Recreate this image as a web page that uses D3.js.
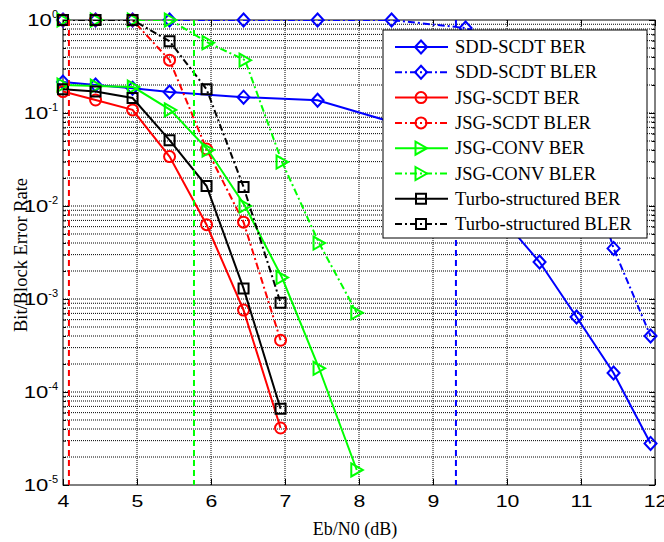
<!DOCTYPE html>
<html>
<head>
<meta charset="utf-8">
<script src="https://cdn.jsdelivr.net/npm/d3@7"></script>
<style>
  body { margin: 0; background: #fff; }
</style>
</head>
<body>
<div id="chart"></div>
<script>
// Eb/N0 positions (dB) for each group of curves
var ebnoJsg = [4, 4.44, 4.94, 5.44, 5.94, 6.44, 6.94];
var ebnoConv = [4, 4.45, 4.95, 5.45, 5.96, 6.46, 6.96, 7.46, 7.97];
var ebnoSdd = [4, 4.44, 4.94, 5.44, 6.44, 7.44, 8.44, 9.44, 10.44, 10.94, 11.44, 11.94];

// error rates
var sddBer = [0.215, 0.2, 0.185, 0.168, 0.148, 0.137, 0.08, 0.021, 0.0025, 0.00064, 0.00016, 0.000028];
var sddBler = [1, 1, 1, 1, 1, 1, 1, 0.82, 0.4, 0.07, 0.0035, 0.0004];
var jsgScdtBer = [0.17, 0.138, 0.108, 0.034, 0.0063, 0.00076, 0.000041];
var jsgScdtBler = [1, 1, 1, 0.37, 0.041, 0.0067, 0.00036];
var jsgConvBer = [0.2, 0.195, 0.19, 0.108, 0.04, 0.01, 0.0017, 0.00018, 0.0000145];
var jsgConvBler = [1, 1, 1, 1, 0.57, 0.37, 0.0297, 0.004, 0.00071];
var turboBer = [0.18, 0.17, 0.145, 0.051, 0.0164, 0.0013, 0.000066];
var turboBler = [1, 1, 1, 0.59, 0.18, 0.016, 0.00091];

// vertical limit lines (dB)
var limitX = [4.08, 5.77, 9.31];

var xTicks = [4, 5, 6, 7, 8, 9, 10, 11, 12];
var yDecades = [1e-5, 1e-4, 1e-3, 1e-2, 1e-1, 1];

var W = 664, H = 542;
var L = 63, R = 655, T = 20, B = 485;
var SX = 1.25; // tick digits are stretched sideways in the original

var svg = d3.select("#chart").append("svg")
    .attr("width", W)
    .attr("height", H)
    .style("font-family", "'Liberation Sans', Arial, sans-serif");

var x = d3.scaleLinear().domain([4, 12]).range([L, R]);
var y = d3.scaleLog().domain([1e-5, 1]).range([B, T]);

// grid
var grid = svg.append("g").attr("stroke", "#000").attr("stroke-width", 1)
    .attr("stroke-dasharray", "1,1").attr("fill", "none");
grid.selectAll("line.gx").data(xTicks.slice(1, -1)).enter().append("line")
    .attr("x1", function (d) { return x(d); }).attr("x2", function (d) { return x(d); })
    .attr("y1", T).attr("y2", B);
grid.selectAll("line.gy").data(y.ticks().filter(function (d) { return d > 1e-5 && d < 1; }))
    .enter().append("line")
    .attr("x1", L).attr("x2", R)
    .attr("y1", function (d) { return y(d); }).attr("y2", function (d) { return y(d); });

// axes (ticks inward on all sides)
var minorY = y.ticks();
svg.append("g").attr("transform", "translate(0," + B + ")")
    .call(d3.axisBottom(x).tickValues(xTicks).tickSize(-6).tickSizeOuter(0).tickPadding(10))
    .call(function (g) {
        g.select(".domain").remove();
        g.selectAll("text").attr("font-size", 17).attr("fill", "#000")
            .attr("transform", "scale(" + SX + ",1)")
            .attr("font-family", "'Liberation Sans', Arial, sans-serif");
    });
svg.append("g").attr("transform", "translate(0," + T + ")")
    .call(d3.axisTop(x).tickValues(xTicks).tickSize(-6).tickSizeOuter(0).tickFormat(""))
    .call(function (g) { g.select(".domain").remove(); });
svg.append("g").attr("transform", "translate(" + L + ",0)")
    .call(d3.axisLeft(y).tickValues(minorY).tickSize(-3).tickFormat(""))
    .call(function (g) { g.select(".domain").remove(); });
svg.append("g").attr("transform", "translate(" + R + ",0)")
    .call(d3.axisRight(y).tickValues(minorY).tickSize(-3).tickFormat(""))
    .call(function (g) { g.select(".domain").remove(); });
svg.append("g").attr("transform", "translate(" + L + ",0)")
    .call(d3.axisLeft(y).tickValues(yDecades).tickSize(-6).tickFormat(""))
    .call(function (g) {
        g.select(".domain").remove();
        g.selectAll(".tick").each(function (d) {
            var tick = d3.select(this);
            var ex = tick.append("text")
                .attr("x", -5).attr("y", -3)
                .attr("text-anchor", "end").attr("fill", "#000")
                .attr("font-size", 11)
                .text(Math.round(Math.log10(d)));
            var w = ex.node().getComputedTextLength();
            tick.append("text")
                .attr("x", (-5 - w) / 1.3).attr("dy", "0.35em")
                .attr("transform", "scale(1.3,1)")
                .attr("text-anchor", "end").attr("fill", "#000")
                .attr("font-size", 17)
                .text("10");
        });
    });
svg.append("g").attr("transform", "translate(" + R + ",0)")
    .call(d3.axisRight(y).tickValues(yDecades).tickSize(-6).tickFormat(""))
    .call(function (g) { g.select(".domain").remove(); });

svg.append("rect").attr("x", L).attr("y", T).attr("width", R - L).attr("height", B - T)
    .attr("fill", "none").attr("stroke", "#000").attr("stroke-width", 1);

// axis titles
svg.append("text").attr("x", 355).attr("y", 535)
    .attr("text-anchor", "middle").attr("font-family", "'Liberation Serif', 'Times New Roman', serif")
    .attr("font-size", 18).text("Eb/N0 (dB)");
svg.append("text").attr("transform", "translate(27,255) rotate(-90)")
    .attr("text-anchor", "middle").attr("font-family", "'Liberation Serif', 'Times New Roman', serif")
    .attr("font-size", 18.5).text("Bit/Block Error Rate");

// markers
function marker(kind) {
    if (kind === "diamond") return "M0,-6.5L6,0L0,6.5L-6,0Z";
    if (kind === "circle") return "M5.5,0A5.5,5.5 0 1,1 -5.5,0A5.5,5.5 0 1,1 5.5,0Z";
    if (kind === "triangle") return "M-5.5,-6.5L6,0L-5.5,6.5Z";
    return "M-5,-5H5V5H-5Z";
}

var series = [
    { name: "SDD-SCDT BER", xs: ebnoSdd, ys: sddBer, color: "#0000ff", dash: null, mk: "diamond" },
    { name: "SDD-SCDT BLER", xs: ebnoSdd, ys: sddBler, color: "#0000ff", dash: "7,3,2,3", mk: "diamond" },
    { name: "JSG-SCDT BER", xs: ebnoJsg, ys: jsgScdtBer, color: "#ff0000", dash: null, mk: "circle" },
    { name: "JSG-SCDT BLER", xs: ebnoJsg, ys: jsgScdtBler, color: "#ff0000", dash: "7,3,2,3", mk: "circle" },
    { name: "JSG-CONV BER", xs: ebnoConv, ys: jsgConvBer, color: "#00ff00", dash: null, mk: "triangle" },
    { name: "JSG-CONV BLER", xs: ebnoConv, ys: jsgConvBler, color: "#00ff00", dash: "7,3,2,3", mk: "triangle" },
    { name: "Turbo-structured BER", xs: ebnoJsg, ys: turboBer, color: "#000000", dash: null, mk: "square" },
    { name: "Turbo-structured BLER", xs: ebnoJsg, ys: turboBler, color: "#000000", dash: "7,3,2,3", mk: "square" }
];

svg.append("clipPath").attr("id", "plotclip").append("rect")
    .attr("x", L).attr("y", T).attr("width", R - L).attr("height", B - T);

var line = d3.line().x(function (d) { return x(d[0]); }).y(function (d) { return y(d[1]); });

series.forEach(function (s) {
    var pts = s.xs.map(function (v, i) { return [v, s.ys[i]]; });
    var g = svg.append("g");
    g.append("path").datum(pts)
        .attr("clip-path", "url(#plotclip)")
        .attr("fill", "none").attr("stroke", s.color).attr("stroke-width", 2)
        .attr("stroke-dasharray", s.dash)
        .attr("d", line);
    g.selectAll("path.mk").data(pts).enter().append("path")
        .attr("class", "mk")
        .attr("transform", function (d) { return "translate(" + x(d[0]) + "," + y(d[1]) + ")"; })
        .attr("d", marker(s.mk))
        .attr("fill", "none").attr("stroke", s.color).attr("stroke-width", 2);
});

// dashed vertical limits
var limitColors = ["#ff0000", "#00ff00", "#0000ff"];
svg.selectAll("line.limit").data(limitX).enter().append("line")
    .attr("x1", function (d) { return x(d); }).attr("x2", function (d) { return x(d); })
    .attr("y1", T).attr("y2", B)
    .attr("stroke", function (d, i) { return limitColors[i]; })
    .attr("stroke-width", 2).attr("stroke-dasharray", "6,4");

// legend
var lg = svg.append("g").attr("font-family", "'Liberation Serif', 'Times New Roman', serif");
lg.append("rect").attr("x", 383).attr("y", 30).attr("width", 264).attr("height", 208)
    .attr("fill", "#fff").attr("stroke", "#000").attr("stroke-width", 1);
series.forEach(function (s, i) {
    var ry = 47 + i * 25.3;
    lg.append("line").attr("x1", 395).attr("x2", 448).attr("y1", ry).attr("y2", ry)
        .attr("stroke", s.color).attr("stroke-width", 2).attr("stroke-dasharray", s.dash);
    lg.append("path").attr("transform", "translate(421," + ry + ")")
        .attr("d", marker(s.mk)).attr("fill", "none").attr("stroke", s.color).attr("stroke-width", 2);
    lg.append("text").attr("x", 455).attr("y", ry + 6).attr("font-size", 18.5).text(s.name);
});
</script>
</body>
</html>
